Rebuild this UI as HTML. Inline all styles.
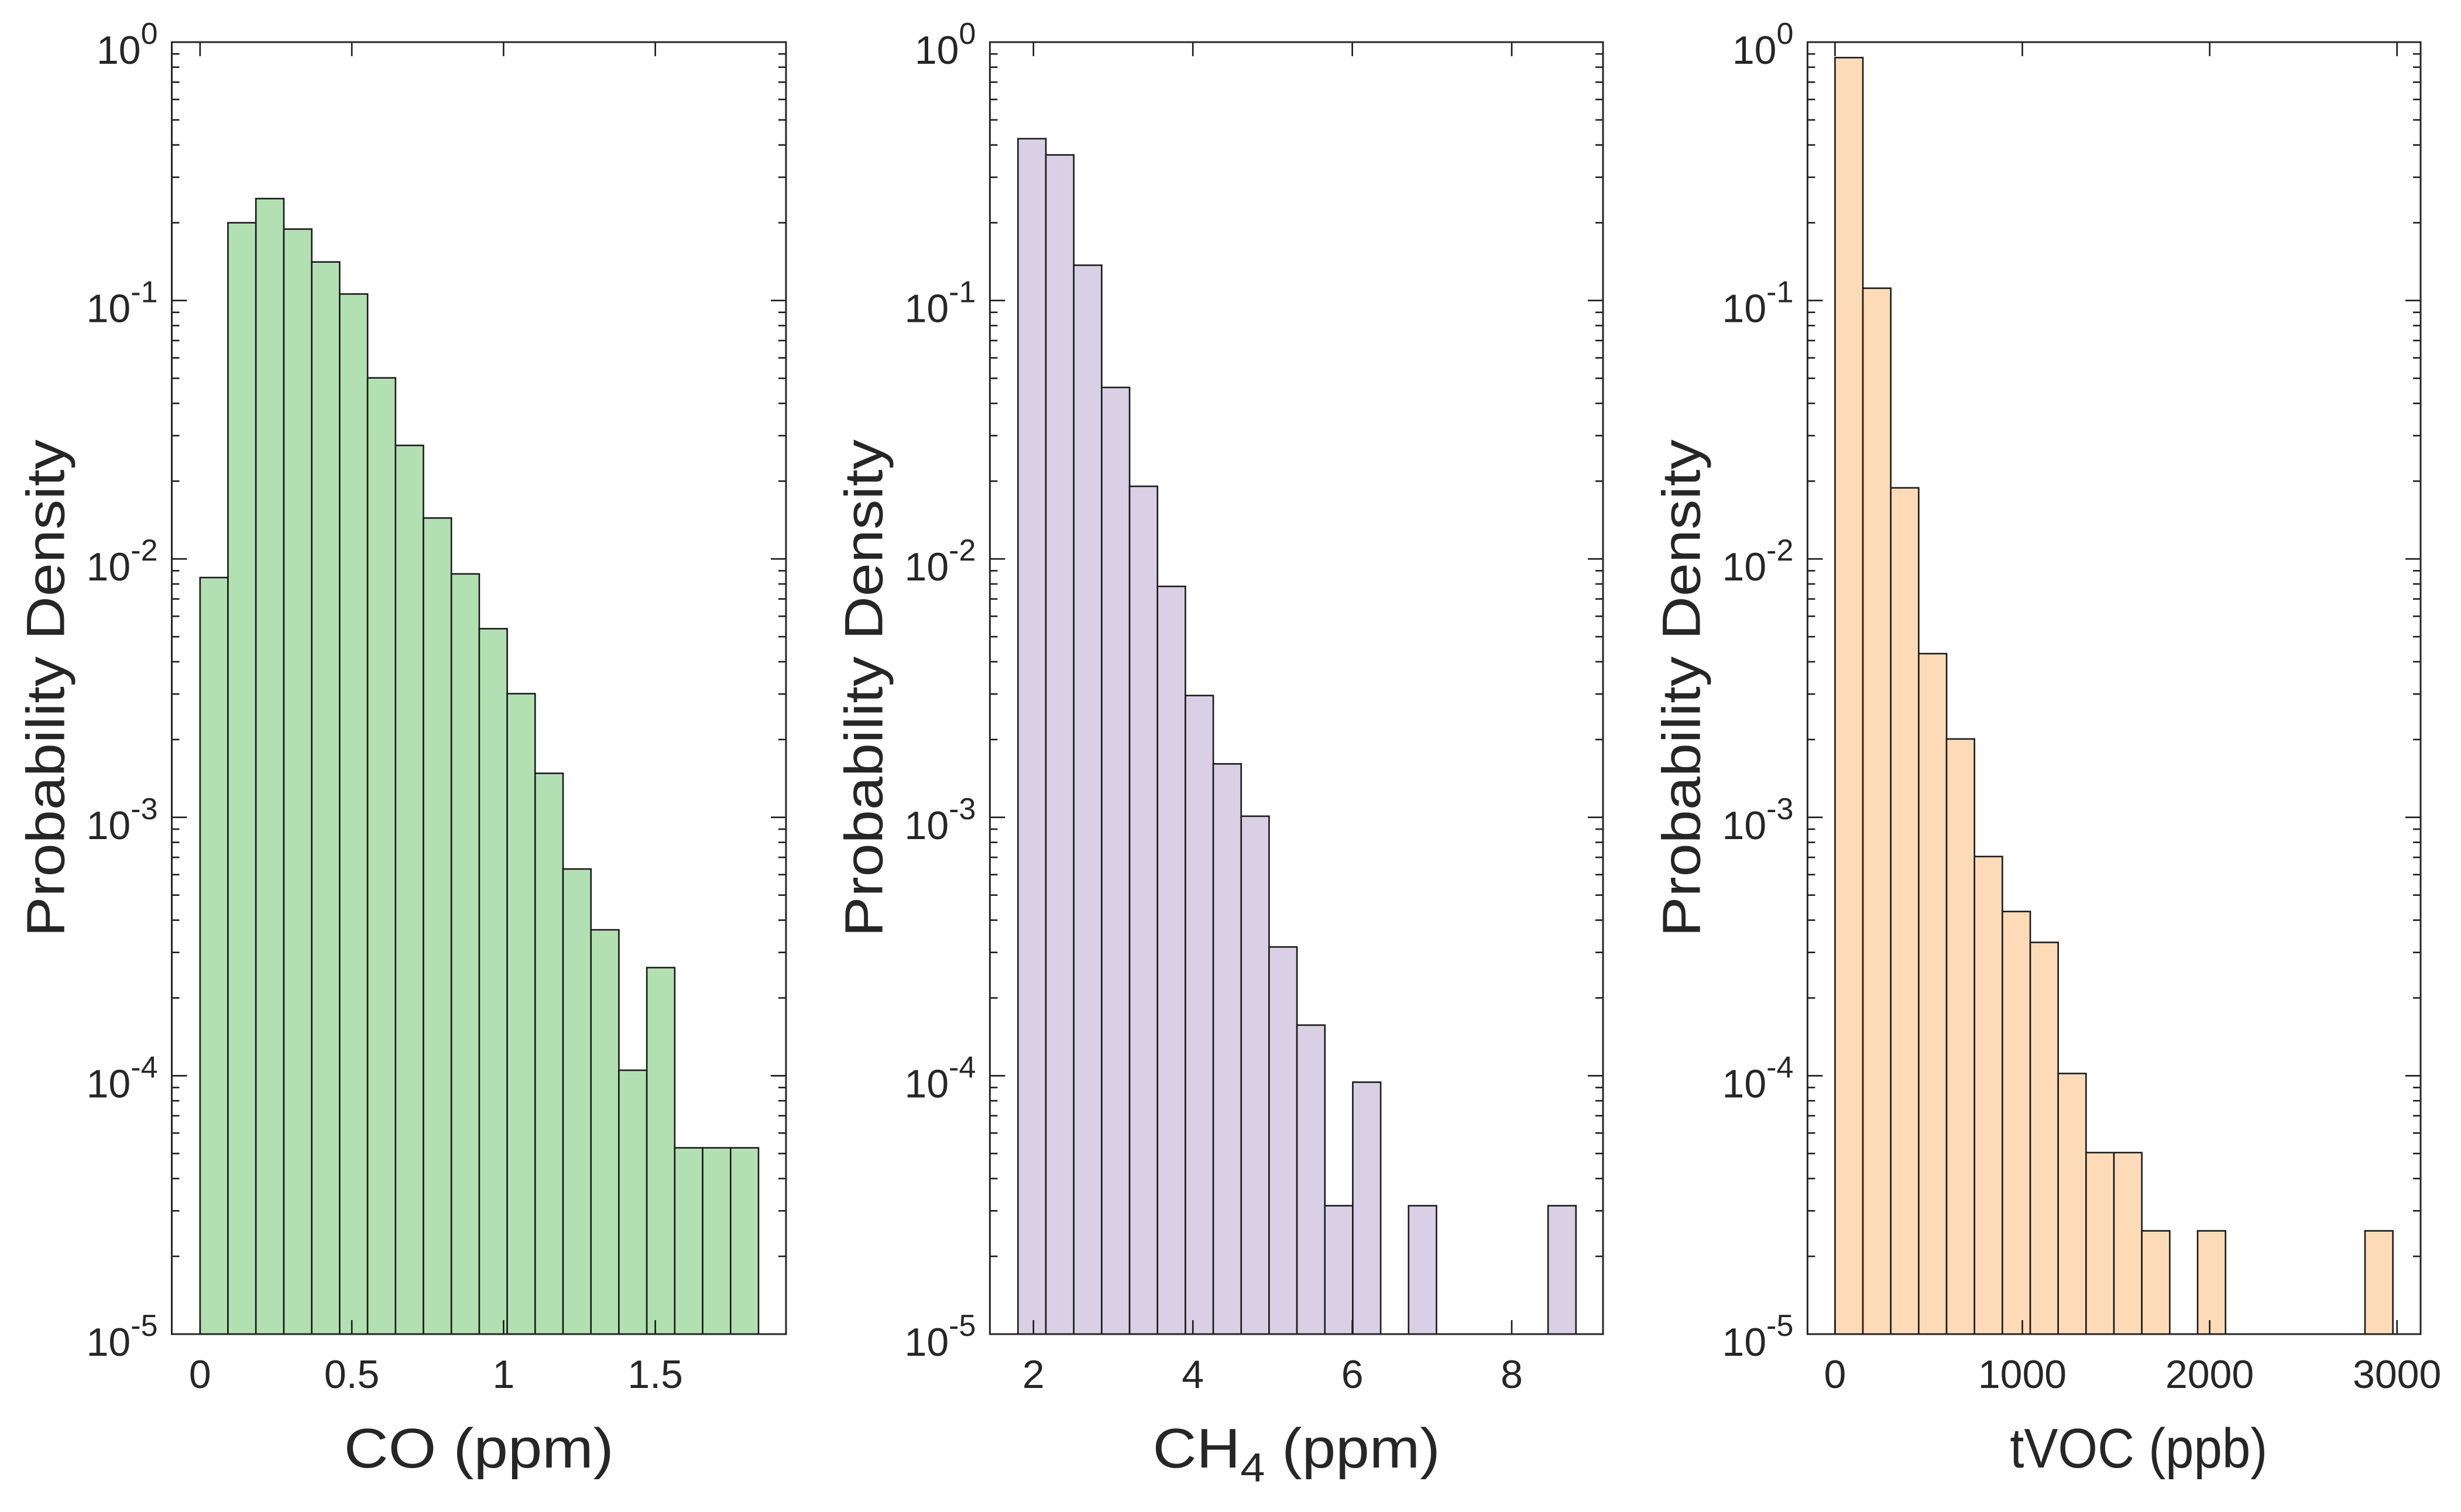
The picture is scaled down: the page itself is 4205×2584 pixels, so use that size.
<!DOCTYPE html>
<html><head><meta charset="utf-8">
<style>
html,body{margin:0;padding:0;background:#fff;}
svg{display:block;font-family:"Liberation Sans",Arial,sans-serif;}
</style></head>
<body>
<svg id="chart" width="4205" height="2584" viewBox="0 0 4205 2584" xmlns="http://www.w3.org/2000/svg"></svg>
<script>
// ---- data ----
const coValues = [0.00847,0.200,0.248,0.189,0.141,0.106,0.0502,0.0275,0.0144,0.00875,0.00537,0.00301,0.00148,0.000631,0.000367,0.000105,0.000262,0.0000526,0.0000526,0.0000526];
const coBinStart = 0;
const coBinWidth = 0.092;
const coTicks = [0, 0.5, 1, 1.5];
const coTickLabels = ["0","0.5","1","1.5"];

const ch4Values = [0.423,0.366,0.137,0.0461,0.0191,0.00783,0.00296,0.00161,0.00101,0.000315,0.000157,0.0000314,0.0000944,0,0.0000314,0,0,0,0,0.0000314];
const ch4BinStart = 1.806;
const ch4BinWidth = 0.35;
const ch4Ticks = [2, 4, 6, 8];
const ch4TickLabels = ["2","4","6","8"];

const vocValues = [0.871,0.1116,0.01884,0.0043,0.00201,0.000705,0.000432,0.000328,0.000102,0.0000504,0.0000504,0.0000251,0,0.0000251,0,0,0,0,0,0.0000251];
const vocBinStart = 0;
const vocBinWidth = 148.9;
const vocTicks = [0, 1000, 2000, 3000];
const vocTickLabels = ["0","1000","2000","3000"];

const yTickExps = [0,-1,-2,-3,-4,-5];

// ---- layout ----
const NS = "http://www.w3.org/2000/svg";
const svg = document.getElementById("chart");
const TOP = 72, BOTTOM = 2280;
const panels = [
  {key:"co", left:293.5, right:1343, xmin:-0.0932, xmax:1.9306, values:coValues, start:coBinStart, width:coBinWidth, ticks:coTicks, labels:coTickLabels, color:"#b3e0b2", xlabel:"CO (ppm)", xlen:461, xoff:0},
  {key:"ch4", left:1691.4, right:2739, xmin:1.4537, xmax:9.1453, values:ch4Values, start:ch4BinStart, width:ch4BinWidth, ticks:ch4Ticks, labels:ch4TickLabels, color:"#d9d0e6", xlabel:null, xlen:491, xoff:0},
  {key:"voc", left:3088.4, right:4136, xmin:-146.8, xmax:3126, values:vocValues, start:vocBinStart, width:vocBinWidth, ticks:vocTicks, labels:vocTickLabels, color:"#fddbb8", xlabel:"tVOC (ppb)", xlen:440, xoff:42}
];
function yScale(v){ const lg = Math.log10(v); return TOP + (0 - lg) / 5 * (BOTTOM - TOP); }
function mk(tag, attrs, parent){ const e=document.createElementNS(NS,tag); for(const k in attrs) e.setAttribute(k, attrs[k]); (parent||svg).appendChild(e); return e; }

panels.forEach(p => {
  const xScale = x => p.left + (x - p.xmin) / (p.xmax - p.xmin) * (p.right - p.left);
  const g = mk("g", {});
  
  
  p.values.forEach((v, i) => {
    if (!(v > 0)) return;
    const x0 = xScale(p.start + i * p.width), x1 = xScale(p.start + (i + 1) * p.width);
    const y = yScale(v);
    const r = mk("rect", {x:x0, y:y, width:x1-x0, height:BOTTOM-y, fill:p.color, stroke:"#1a1a1a", "stroke-width":2.6}, g);
    
    
  });
  for (let e = 0; e > -5; e--) {
    for (let m = 2; m <= 9; m++) {
      const y = yScale(m * Math.pow(10, e - 1));
      mk("line", {x1:p.left, x2:p.left+13, y1:y, y2:y, stroke:"#1a1a1a", "stroke-width":2.6}, g);
      mk("line", {x1:p.right, x2:p.right-13, y1:y, y2:y, stroke:"#1a1a1a", "stroke-width":2.6}, g);
    }
  }
  yTickExps.forEach(e => {
    const y = yScale(Math.pow(10, e));
    mk("line", {x1:p.left, x2:p.left+26, y1:y, y2:y, stroke:"#1a1a1a", "stroke-width":2.6}, g);
    mk("line", {x1:p.right, x2:p.right-26, y1:y, y2:y, stroke:"#1a1a1a", "stroke-width":2.6}, g);
    const t = mk("text", {x:p.left-24, y:y+37, "text-anchor":"end", "font-size":68, fill:"#262626"}, g);
    
    
    const base = document.createElementNS(NS,"tspan"); base.textContent = "10"; t.appendChild(base);
    const sup = document.createElementNS(NS,"tspan"); sup.setAttribute("font-size", 52); sup.setAttribute("dy", -34);
    sup.textContent = e === 0 ? "0" : "-" + Math.abs(e); t.appendChild(sup);
  });
  p.ticks.forEach((tv, i) => {
    const x = xScale(tv);
    mk("line", {x1:x, x2:x, y1:BOTTOM, y2:BOTTOM-24, stroke:"#1a1a1a", "stroke-width":2.6}, g);
    mk("line", {x1:x, x2:x, y1:TOP, y2:TOP+24, stroke:"#1a1a1a", "stroke-width":2.6}, g);
    const t = mk("text", {x:x, y:2372, "text-anchor":"middle", "font-size":68, fill:"#262626"}, g);
    
    
    t.textContent = p.labels[i];
  });
  const box = mk("rect", {x:p.left, y:TOP, width:p.right-p.left, height:BOTTOM-TOP, fill:"none", stroke:"#262626", "stroke-width":3}, g);
  
  
  const cx = (p.left + p.right) / 2 + p.xoff;
  const xl = mk("text", {x:cx, y:2508, "text-anchor":"middle", "font-size":96, fill:"#262626", textLength:p.xlen, lengthAdjust:"spacingAndGlyphs"}, g);
  
  
  if (p.xlabel) { xl.textContent = p.xlabel; }
  else {
    const a = document.createElementNS(NS,"tspan"); a.textContent = "CH"; xl.appendChild(a);
    const b = document.createElementNS(NS,"tspan"); b.setAttribute("font-size", 70); b.setAttribute("dy", 24); b.textContent = "4"; xl.appendChild(b);
    const c = document.createElementNS(NS,"tspan"); c.setAttribute("dy", -24); c.textContent = " (ppm)"; xl.appendChild(c);
  }
  const bx = p.left - 184, cy = 1176;
  const yl = mk("text", {x:bx, y:cy, "text-anchor":"middle", "font-size":92, fill:"#262626", transform:"rotate(-90 " + bx + " " + cy + ")", textLength:850, lengthAdjust:"spacingAndGlyphs"}, g);
  
  
  yl.textContent = "Probability Density";
});
</script>
</body></html>
